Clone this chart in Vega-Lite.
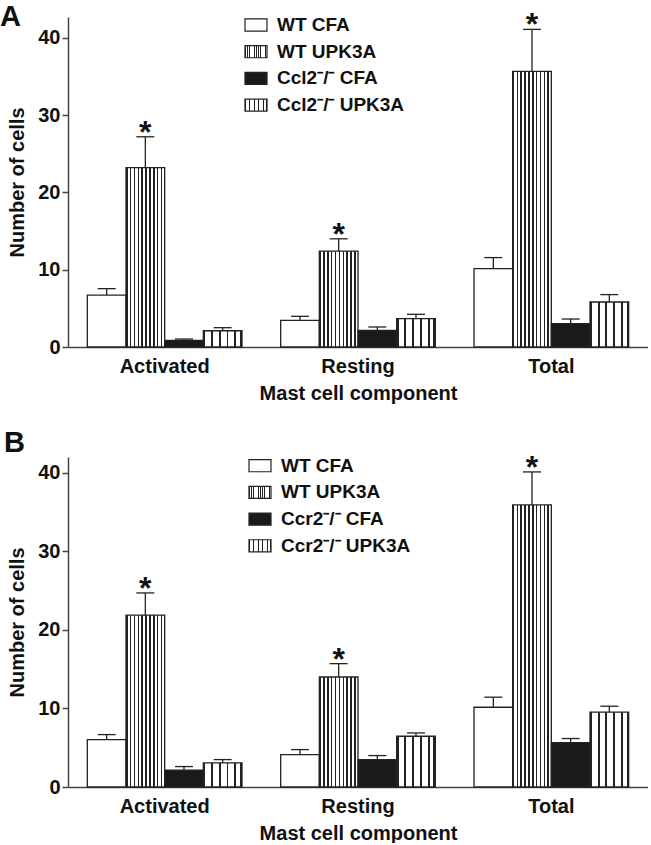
{
  "$schema": "https://vega.github.io/schema/vega-lite/v6.json",
  "background": "white",
  "padding": {"left": 0, "top": 3, "right": 0, "bottom": 0},
  "config": {
    "font": "Liberation Sans",
    "view": {"stroke": null},
    "axisY": {"grid": false, "tickSize": 6, "tickWidth": 1.5, "tickColor": "#444", "domainColor": "#444", "domainWidth": 1.5, "labelFontSize": 20, "labelFontWeight": "bold", "labelColor": "#111", "labelPadding": 2, "titleFontSize": 20, "titleFontWeight": "bold", "titleColor": "#111", "titlePadding": 10},
    "axisX": {"ticks": false, "labelAngle": 0, "labelFontSize": 20, "labelFontWeight": "bold", "labelColor": "#111", "labelPadding": 9, "titleFontSize": 20, "titleFontWeight": "bold", "titleColor": "#111", "titlePadding": 7, "domainColor": "#444", "domainWidth": 1.5, "grid": false},
    "legend": {"padding": 0}
  },
  "datasets": {
    "d": [
      {"panel": "A", "component": "Activated", "group": "WT CFA", "value": 6.7, "err": 7.55, "sig": ""},
      {"panel": "A", "component": "Activated", "group": "WT UPK3A", "value": 23.2, "err": 27.2, "sig": "*"},
      {"panel": "A", "component": "Activated", "group": "Ccl2⁻/⁻ CFA", "value": 0.87, "err": 1.03, "sig": ""},
      {"panel": "A", "component": "Activated", "group": "Ccl2⁻/⁻ UPK3A", "value": 2.1, "err": 2.5, "sig": ""},
      {"panel": "A", "component": "Resting", "group": "WT CFA", "value": 3.45, "err": 3.97, "sig": ""},
      {"panel": "A", "component": "Resting", "group": "WT UPK3A", "value": 12.4, "err": 14.0, "sig": "*"},
      {"panel": "A", "component": "Resting", "group": "Ccl2⁻/⁻ CFA", "value": 2.16, "err": 2.59, "sig": ""},
      {"panel": "A", "component": "Resting", "group": "Ccl2⁻/⁻ UPK3A", "value": 3.67, "err": 4.23, "sig": ""},
      {"panel": "A", "component": "Total", "group": "WT CFA", "value": 10.14, "err": 11.57, "sig": ""},
      {"panel": "A", "component": "Total", "group": "WT UPK3A", "value": 35.67, "err": 41.1, "sig": "*"},
      {"panel": "A", "component": "Total", "group": "Ccl2⁻/⁻ CFA", "value": 3.03, "err": 3.62, "sig": ""},
      {"panel": "A", "component": "Total", "group": "Ccl2⁻/⁻ UPK3A", "value": 5.82, "err": 6.78, "sig": ""},
      {"panel": "B", "component": "Activated", "group": "WT CFA", "value": 6.03, "err": 6.67, "sig": ""},
      {"panel": "B", "component": "Activated", "group": "WT UPK3A", "value": 21.87, "err": 24.7, "sig": "*"},
      {"panel": "B", "component": "Activated", "group": "Ccr2⁻/⁻ CFA", "value": 2.13, "err": 2.6, "sig": ""},
      {"panel": "B", "component": "Activated", "group": "Ccr2⁻/⁻ UPK3A", "value": 3.06, "err": 3.49, "sig": ""},
      {"panel": "B", "component": "Resting", "group": "WT CFA", "value": 4.12, "err": 4.76, "sig": ""},
      {"panel": "B", "component": "Resting", "group": "WT UPK3A", "value": 14.0, "err": 15.7, "sig": "*"},
      {"panel": "B", "component": "Resting", "group": "Ccr2⁻/⁻ CFA", "value": 3.49, "err": 4.0, "sig": ""},
      {"panel": "B", "component": "Resting", "group": "Ccr2⁻/⁻ UPK3A", "value": 6.46, "err": 6.88, "sig": ""},
      {"panel": "B", "component": "Total", "group": "WT CFA", "value": 10.15, "err": 11.43, "sig": ""},
      {"panel": "B", "component": "Total", "group": "WT UPK3A", "value": 35.9, "err": 40.1, "sig": "*"},
      {"panel": "B", "component": "Total", "group": "Ccr2⁻/⁻ CFA", "value": 5.66, "err": 6.17, "sig": ""},
      {"panel": "B", "component": "Total", "group": "Ccr2⁻/⁻ UPK3A", "value": 9.52, "err": 10.28, "sig": ""}
    ]
  },
  "spacing": 25,
  "resolve": {"scale": {"fill": "independent", "y": "independent", "xOffset": "independent"}, "legend": {"fill": "independent"}},
  "vconcat": [
    {
      "title": {"text": "A", "anchor": "start", "frame": "group", "fontSize": 29, "fontWeight": "bold", "color": "#111", "dx": -68, "offset": -23},
      "width": 580,
      "height": 330,
      "data": {"name": "d"},
      "transform": [{"filter": "datum.panel === 'A'"}],
      "encoding": {
        "x": {"field": "component", "type": "nominal", "sort": ["Activated", "Resting", "Total"], "scale": {"paddingInner": 0.2, "paddingOuter": 0.1}, "title": "Mast cell component"},
        "xOffset": {"field": "group", "type": "nominal", "sort": ["WT CFA", "WT UPK3A", "Ccl2⁻/⁻ CFA", "Ccl2⁻/⁻ UPK3A"], "scale": {"paddingInner": 0, "paddingOuter": 0}}
      },
      "layer": [
        {"mark": {"type": "rule", "color": "#222", "strokeWidth": 1.3},
         "encoding": {"y": {"field": "value", "type": "quantitative", "scale": {"domain": [0, 42.7], "nice": false}, "axis": {"values": [0, 10, 20, 30, 40]}, "title": "Number of cells"}, "y2": {"field": "err"}}},
        {"mark": {"type": "bar", "stroke": "#222", "strokeWidth": 1.3},
         "encoding": {
           "y": {"field": "value", "type": "quantitative", "title": "Number of cells"},
           "fill": {"field": "group", "type": "nominal",
             "scale": {"domain": ["WT CFA", "WT UPK3A", "Ccl2⁻/⁻ CFA", "Ccl2⁻/⁻ UPK3A"],
               "range": ["#ffffff",
                 {"expr": "{gradient:'linear',x1:0,y1:0,x2:1,y2:0,stops:[{offset:0,color:'#222'},{offset:0.04,color:'#222'},{offset:0.04,color:'#fff'},{offset:0.1,color:'#fff'},{offset:0.1,color:'#222'},{offset:0.14,color:'#222'},{offset:0.14,color:'#fff'},{offset:0.2,color:'#fff'},{offset:0.2,color:'#222'},{offset:0.24,color:'#222'},{offset:0.24,color:'#fff'},{offset:0.3,color:'#fff'},{offset:0.3,color:'#222'},{offset:0.34,color:'#222'},{offset:0.34,color:'#fff'},{offset:0.4,color:'#fff'},{offset:0.4,color:'#222'},{offset:0.44,color:'#222'},{offset:0.44,color:'#fff'},{offset:0.5,color:'#fff'},{offset:0.5,color:'#222'},{offset:0.54,color:'#222'},{offset:0.54,color:'#fff'},{offset:0.6,color:'#fff'},{offset:0.6,color:'#222'},{offset:0.64,color:'#222'},{offset:0.64,color:'#fff'},{offset:0.7,color:'#fff'},{offset:0.7,color:'#222'},{offset:0.74,color:'#222'},{offset:0.74,color:'#fff'},{offset:0.8,color:'#fff'},{offset:0.8,color:'#222'},{offset:0.84,color:'#222'},{offset:0.84,color:'#fff'},{offset:0.9,color:'#fff'},{offset:0.9,color:'#222'},{offset:0.94,color:'#222'},{offset:0.94,color:'#fff'},{offset:1,color:'#fff'}]}"},
                 "#1a1a1a",
                 {"expr": "{gradient:'linear',x1:0,y1:0,x2:1,y2:0,stops:[{offset:0,color:'#222'},{offset:0.05,color:'#222'},{offset:0.05,color:'#fff'},{offset:0.2,color:'#fff'},{offset:0.2,color:'#222'},{offset:0.25,color:'#222'},{offset:0.25,color:'#fff'},{offset:0.4,color:'#fff'},{offset:0.4,color:'#222'},{offset:0.45,color:'#222'},{offset:0.45,color:'#fff'},{offset:0.6,color:'#fff'},{offset:0.6,color:'#222'},{offset:0.65,color:'#222'},{offset:0.65,color:'#fff'},{offset:0.8,color:'#fff'},{offset:0.8,color:'#222'},{offset:0.85,color:'#222'},{offset:0.85,color:'#fff'},{offset:0.95,color:'#fff'},{offset:0.95,color:'#222'},{offset:1,color:'#222'}]}"}]},
             "legend": {"title": null, "orient": "none", "legendX": 176, "legendY": -4, "symbolType": "M-1,-0.55H1V0.55H-1Z", "symbolSize": 484, "symbolStrokeColor": "#222", "symbolStrokeWidth": 1.2, "symbolOpacity": 1, "labelFontSize": 19, "labelFontWeight": "bold", "labelColor": "#111", "labelOffset": 9, "rowPadding": 4.7}}
         }},
        {"mark": {"type": "tick", "color": "#222", "thickness": 1.3, "size": 18, "opacity": 1},
         "encoding": {"y": {"field": "err", "type": "quantitative", "title": "Number of cells"}}},
        {"mark": {"type": "text", "fontSize": 32, "fontWeight": "bold", "dy": 6, "baseline": "alphabetic", "color": "#111"},
         "encoding": {"y": {"field": "err", "type": "quantitative", "title": "Number of cells"}, "text": {"field": "sig"}}}
      ]
    },
    {
      "title": {"text": "B", "anchor": "start", "frame": "group", "fontSize": 29, "fontWeight": "bold", "color": "#111", "dx": -64, "offset": -6},
      "width": 580,
      "height": 330,
      "data": {"name": "d"},
      "transform": [{"filter": "datum.panel === 'B'"}],
      "encoding": {
        "x": {"field": "component", "type": "nominal", "sort": ["Activated", "Resting", "Total"], "scale": {"paddingInner": 0.2, "paddingOuter": 0.1}, "title": "Mast cell component"},
        "xOffset": {"field": "group", "type": "nominal", "sort": ["WT CFA", "WT UPK3A", "Ccr2⁻/⁻ CFA", "Ccr2⁻/⁻ UPK3A"], "scale": {"paddingInner": 0, "paddingOuter": 0}}
      },
      "layer": [
        {"mark": {"type": "rule", "color": "#222", "strokeWidth": 1.3},
         "encoding": {"y": {"field": "value", "type": "quantitative", "scale": {"domain": [0, 42], "nice": false}, "axis": {"values": [0, 10, 20, 30, 40]}, "title": "Number of cells"}, "y2": {"field": "err"}}},
        {"mark": {"type": "bar", "stroke": "#222", "strokeWidth": 1.3},
         "encoding": {
           "y": {"field": "value", "type": "quantitative", "title": "Number of cells"},
           "fill": {"field": "group", "type": "nominal",
             "scale": {"domain": ["WT CFA", "WT UPK3A", "Ccr2⁻/⁻ CFA", "Ccr2⁻/⁻ UPK3A"],
               "range": ["#ffffff",
                 {"expr": "{gradient:'linear',x1:0,y1:0,x2:1,y2:0,stops:[{offset:0,color:'#222'},{offset:0.04,color:'#222'},{offset:0.04,color:'#fff'},{offset:0.1,color:'#fff'},{offset:0.1,color:'#222'},{offset:0.14,color:'#222'},{offset:0.14,color:'#fff'},{offset:0.2,color:'#fff'},{offset:0.2,color:'#222'},{offset:0.24,color:'#222'},{offset:0.24,color:'#fff'},{offset:0.3,color:'#fff'},{offset:0.3,color:'#222'},{offset:0.34,color:'#222'},{offset:0.34,color:'#fff'},{offset:0.4,color:'#fff'},{offset:0.4,color:'#222'},{offset:0.44,color:'#222'},{offset:0.44,color:'#fff'},{offset:0.5,color:'#fff'},{offset:0.5,color:'#222'},{offset:0.54,color:'#222'},{offset:0.54,color:'#fff'},{offset:0.6,color:'#fff'},{offset:0.6,color:'#222'},{offset:0.64,color:'#222'},{offset:0.64,color:'#fff'},{offset:0.7,color:'#fff'},{offset:0.7,color:'#222'},{offset:0.74,color:'#222'},{offset:0.74,color:'#fff'},{offset:0.8,color:'#fff'},{offset:0.8,color:'#222'},{offset:0.84,color:'#222'},{offset:0.84,color:'#fff'},{offset:0.9,color:'#fff'},{offset:0.9,color:'#222'},{offset:0.94,color:'#222'},{offset:0.94,color:'#fff'},{offset:1,color:'#fff'}]}"},
                 "#1a1a1a",
                 {"expr": "{gradient:'linear',x1:0,y1:0,x2:1,y2:0,stops:[{offset:0,color:'#222'},{offset:0.05,color:'#222'},{offset:0.05,color:'#fff'},{offset:0.2,color:'#fff'},{offset:0.2,color:'#222'},{offset:0.25,color:'#222'},{offset:0.25,color:'#fff'},{offset:0.4,color:'#fff'},{offset:0.4,color:'#222'},{offset:0.45,color:'#222'},{offset:0.45,color:'#fff'},{offset:0.6,color:'#fff'},{offset:0.6,color:'#222'},{offset:0.65,color:'#222'},{offset:0.65,color:'#fff'},{offset:0.8,color:'#fff'},{offset:0.8,color:'#222'},{offset:0.85,color:'#222'},{offset:0.85,color:'#fff'},{offset:0.95,color:'#fff'},{offset:0.95,color:'#222'},{offset:1,color:'#222'}]}"}]},
             "legend": {"title": null, "orient": "none", "legendX": 180, "legendY": -3.3, "symbolType": "M-1,-0.55H1V0.55H-1Z", "symbolSize": 484, "symbolStrokeColor": "#222", "symbolStrokeWidth": 1.2, "symbolOpacity": 1, "labelFontSize": 19, "labelFontWeight": "bold", "labelColor": "#111", "labelOffset": 9, "rowPadding": 4.7}}
         }},
        {"mark": {"type": "tick", "color": "#222", "thickness": 1.3, "size": 18, "opacity": 1},
         "encoding": {"y": {"field": "err", "type": "quantitative", "title": "Number of cells"}}},
        {"mark": {"type": "text", "fontSize": 32, "fontWeight": "bold", "dy": 6, "baseline": "alphabetic", "color": "#111"},
         "encoding": {"y": {"field": "err", "type": "quantitative", "title": "Number of cells"}, "text": {"field": "sig"}}}
      ]
    }
  ]
}
